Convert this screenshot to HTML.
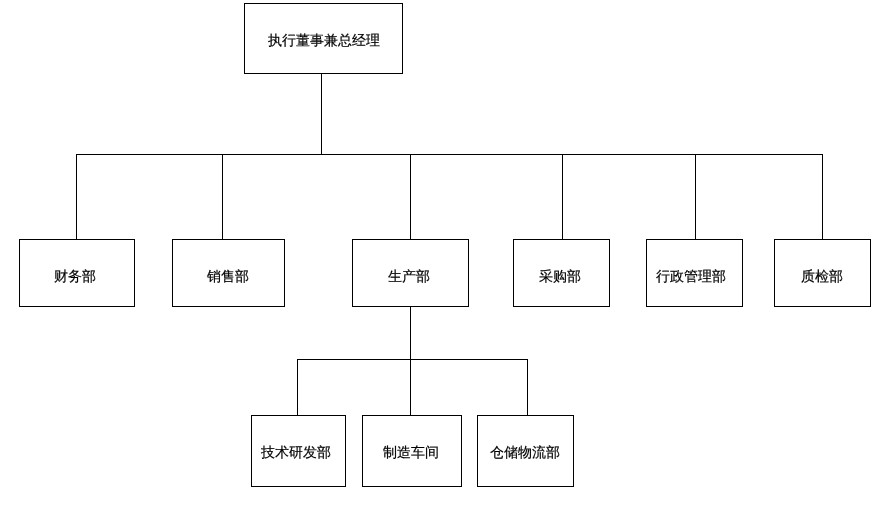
<!DOCTYPE html>
<html><head><meta charset="utf-8"><style>
html,body{margin:0;padding:0;background:#fff;width:888px;height:520px;overflow:hidden;}
.b{position:absolute;box-sizing:border-box;border:1px solid #000;background:#fff;}
.l{position:absolute;background:#000;}
.t{position:absolute;font-family:"Liberation Sans",sans-serif;font-size:14px;line-height:16px;color:#000;white-space:nowrap;will-change:transform;-webkit-text-stroke:0.2px #000;}
</style></head><body>

<div class="l" style="left:321px;top:73px;width:1px;height:82px"></div>
<div class="l" style="left:76px;top:154px;width:747px;height:1px"></div>
<div class="l" style="left:76px;top:154px;width:1px;height:86px"></div>
<div class="l" style="left:222px;top:154px;width:1px;height:86px"></div>
<div class="l" style="left:410px;top:154px;width:1px;height:86px"></div>
<div class="l" style="left:562px;top:154px;width:1px;height:86px"></div>
<div class="l" style="left:695px;top:154px;width:1px;height:86px"></div>
<div class="l" style="left:822px;top:154px;width:1px;height:86px"></div>
<div class="l" style="left:410px;top:306px;width:1px;height:54px"></div>
<div class="l" style="left:297px;top:359px;width:231px;height:1px"></div>
<div class="l" style="left:297px;top:359px;width:1px;height:57px"></div>
<div class="l" style="left:410px;top:359px;width:1px;height:57px"></div>
<div class="l" style="left:527px;top:359px;width:1px;height:57px"></div>
<div class="b" style="left:244px;top:3px;width:159px;height:71px"></div>
<div class="b" style="left:19px;top:239px;width:116px;height:68px"></div>
<div class="b" style="left:172px;top:239px;width:113px;height:68px"></div>
<div class="b" style="left:352px;top:239px;width:117px;height:68px"></div>
<div class="b" style="left:513px;top:239px;width:97px;height:68px"></div>
<div class="b" style="left:646px;top:239px;width:97px;height:68px"></div>
<div class="b" style="left:774px;top:239px;width:97px;height:68px"></div>
<div class="b" style="left:251px;top:415px;width:95px;height:72px"></div>
<div class="b" style="left:362px;top:415px;width:100px;height:72px"></div>
<div class="b" style="left:477px;top:415px;width:97px;height:72px"></div>
<div class="t" style="left:268px;top:32px">执行董事兼总经理</div>
<div class="t" style="left:54px;top:268px">财务部</div>
<div class="t" style="left:207px;top:268px">销售部</div>
<div class="t" style="left:388px;top:268px">生产部</div>
<div class="t" style="left:539px;top:268px">采购部</div>
<div class="t" style="left:656px;top:268px">行政管理部</div>
<div class="t" style="left:801px;top:268px">质检部</div>
<div class="t" style="left:261px;top:444px">技术研发部</div>
<div class="t" style="left:383px;top:444px">制造车间</div>
<div class="t" style="left:490px;top:444px">仓储物流部</div>
</body></html>
